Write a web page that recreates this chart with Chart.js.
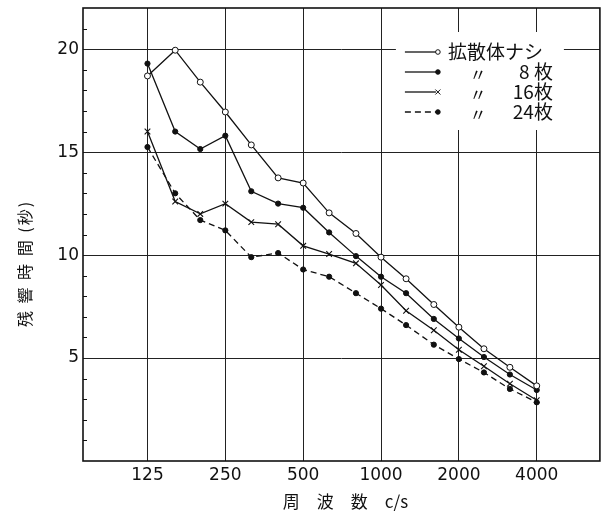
<!DOCTYPE html>
<html>
<head>
<meta charset="utf-8">
<script src="https://cdn.jsdelivr.net/npm/chart.js@4"></script>
<style>
  html, body { margin: 0; padding: 0; background: #fff; }
  #wrap { width: 605px; height: 514px; }
</style>
</head>
<body>
<div id="wrap"><canvas id="c" width="605" height="514"></canvas></div>
<script>
// Reverberation time vs frequency, 1/3 octave bands
const freqs = [125, 160, 200, 250, 315, 400, 500, 630, 800, 1000, 1250, 1600, 2000, 2500, 3150, 4000];
const noDiffuser = [18.7, 19.95, 18.4, 16.95, 15.35, 13.75, 13.5, 12.05, 11.05, 9.9, 8.85, 7.6, 6.5, 5.45, 4.55, 3.65];
const diffuser8 = [19.3, 16.0, 15.15, 15.8, 13.1, 12.5, 12.3, 11.1, 9.95, 8.95, 8.15, 6.9, 5.95, 5.05, 4.2, 3.45];
const diffuser16 = [16.0, 12.6, 12.0, 12.5, 11.6, 11.5, 10.45, 10.05, 9.6, 8.55, 7.3, 6.35, 5.4, 4.6, 3.75, 2.95];
const diffuser24 = [15.25, 13.0, 11.7, 11.2, 9.9, 10.1, 9.3, 8.95, 8.15, 7.4, 6.6, 5.65, 4.95, 4.3, 3.5, 2.85];

const xTicks = [125, 250, 500, 1000, 2000, 4000];
const yLabels = [5, 10, 15, 20];
const seriesNames = ['拡散体ナシ', '〃', '〃', '〃'];
const seriesCounts = ['', '8 枚', '16枚', '24枚'];

const INK = '#111';
const JP_FONT = '"Noto Sans CJK JP"';

const toXY = arr => freqs.map((f, i) => ({ x: f, y: arr[i] }));

function series(data, opts) {
    return Object.assign({
        data: toXY(data),
        borderColor: INK,
        borderWidth: 1.3,
        pointBorderColor: INK,
        pointBackgroundColor: INK,
        pointBorderWidth: 1,
        pointRadius: 2.6,
        tension: 0
    }, opts);
}

const datasets = [
    series(noDiffuser, { pointStyle: 'circle', pointRadius: 3, pointBackgroundColor: '#fff' }),
    series(diffuser8, { pointStyle: 'circle' }),
    series(diffuser16, { pointStyle: 'crossRot', pointRadius: 4, pointBorderWidth: 1.1 }),
    series(diffuser24, { pointStyle: 'circle', borderDash: [6, 4] })
];

// border, minor ticks, legend and axis titles
const decor = {
    id: 'decor',
    afterDatasetsDraw(chart) {
        const { ctx, chartArea: a, scales } = chart;
        const y = scales.y;
        ctx.save();

        // minor ticks on left axis
        ctx.strokeStyle = INK;
        ctx.lineWidth = 1;
        for (let v = 1; v < 22; v++) {
            if (v % 5 === 0) continue;
            const py = Math.round(y.getPixelForValue(v)) + 0.5;
            ctx.beginPath();
            ctx.moveTo(a.left, py);
            ctx.lineTo(a.left + 4, py);
            ctx.stroke();
        }

        // legend box
        const bx = a.right - 204, by = a.top + 24;
        ctx.fillStyle = '#fff';
        ctx.fillRect(bx, by, 168, 98);
        const rowGap = 20;
        for (let i = 0; i < datasets.length; i++) {
            const ry = by + 20 + i * rowGap;
            const ds = datasets[i];
            ctx.strokeStyle = INK;
            ctx.lineWidth = 1.3;
            ctx.setLineDash(ds.borderDash || []);
            ctx.beginPath();
            ctx.moveTo(bx + 9, ry);
            ctx.lineTo(bx + 40, ry);
            ctx.stroke();
            ctx.setLineDash([]);
            // marker
            const mx = bx + 42;
            if (ds.pointStyle === 'crossRot') {
                ctx.lineWidth = 1;
                ctx.beginPath();
                ctx.moveTo(mx - 2.5, ry - 2.5); ctx.lineTo(mx + 2.5, ry + 2.5);
                ctx.moveTo(mx + 2.5, ry - 2.5); ctx.lineTo(mx - 2.5, ry + 2.5);
                ctx.stroke();
            } else {
                ctx.beginPath();
                ctx.arc(mx, ry, 2.3, 0, Math.PI * 2);
                ctx.fillStyle = ds.pointBackgroundColor;
                ctx.fill();
                ctx.lineWidth = 1;
                ctx.stroke();
            }
            ctx.fillStyle = INK;
            ctx.textBaseline = 'middle';
            if (i === 0) {
                ctx.textAlign = 'left';
                ctx.font = '19px ' + JP_FONT;
                ctx.fillText(seriesNames[i], bx + 52, ry);
            } else {
                ctx.textAlign = 'center';
                ctx.font = '17px ' + JP_FONT;
                ctx.fillText(seriesNames[i], bx + 82, ry + 3);
                ctx.textAlign = 'right';
                ctx.font = '19px ' + JP_FONT;
                ctx.fillText(seriesCounts[i], bx + 157, ry);
            }
        }

        // plot border
        ctx.strokeStyle = INK;
        ctx.lineWidth = 1.6;
        ctx.strokeRect(a.left, a.top, a.right - a.left, a.bottom - a.top);

        // axis titles
        ctx.fillStyle = INK;
        ctx.textAlign = 'center';
        ctx.textBaseline = 'middle';
        ctx.font = '16px ' + JP_FONT;
        ctx.save();
        ctx.translate(25, (a.top + a.bottom) / 2 + 29);
        ctx.rotate(-Math.PI / 2);
        ctx.letterSpacing = '2px';
        ctx.fillText('残 響 時 間 (秒)', 0, 0);
        ctx.restore();
        ctx.font = '17px ' + JP_FONT;
        ctx.fillText('周　波　数　c/s', (a.left + a.right) / 2 + 4, a.bottom + 41);

        ctx.restore();
    }
};

new Chart(document.getElementById('c'), {
    type: 'line',
    data: { datasets },
    options: {
        responsive: false,
        animation: false,
        layout: { padding: { top: 8, right: 4, left: 0, bottom: 0 } },
        plugins: { legend: { display: false }, tooltip: { enabled: false } },
        scales: {
            x: {
                type: 'logarithmic',
                min: 70.4,
                max: 7020,
                afterBuildTicks: s => { s.ticks = xTicks.map(v => ({ value: v })); },
                afterFit: s => { s.height = 53; s.paddingLeft = 0; s.paddingRight = 0; },
                grid: { color: '#222', lineWidth: 1, drawTicks: false },
                border: { display: false },
                ticks: {
                    color: INK,
                    font: { family: 'DejaVu Sans', size: 17 },
                    padding: 4,
                    maxRotation: 0,
                    autoSkip: false,
                    callback: v => String(v)
                }
            },
            y: {
                min: 0,
                max: 22,
                afterFit: s => { s.width = 83; s.paddingTop = 0; s.paddingBottom = 0; },
                grid: {
                    color: c => (yLabels.includes(c.tick.value) ? '#222' : 'rgba(0,0,0,0)'),
                    lineWidth: 1,
                    drawTicks: false
                },
                border: { display: false },
                ticks: {
                    stepSize: 1,
                    autoSkip: false,
                    color: INK,
                    font: { family: 'DejaVu Sans', size: 17 },
                    padding: 4,
                    callback: v => (yLabels.includes(v) ? String(v) : '')
                }
            }
        }
    },
    plugins: [decor]
});
</script>
</body>
</html>
